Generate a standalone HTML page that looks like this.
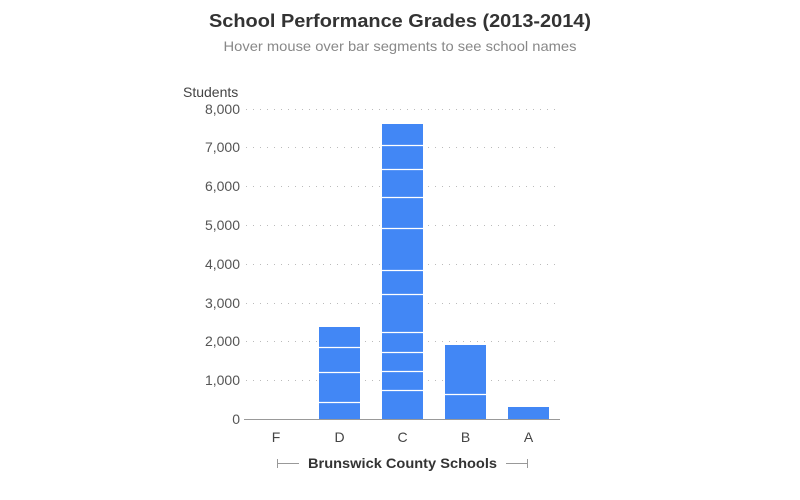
<!DOCTYPE html>
<html><head><meta charset="utf-8"><style>
html,body{margin:0;padding:0;background:#fff;}
svg{display:block;font-family:"Liberation Sans",Arial,sans-serif;}
</style></head><body>
<svg width="800" height="500" viewBox="0 0 800 500" xmlns="http://www.w3.org/2000/svg">
<rect width="800" height="500" fill="#fff"/>
<text x="400" y="27" text-anchor="middle" font-size="18" font-weight="bold" fill="#333" textLength="382" lengthAdjust="spacingAndGlyphs">School Performance Grades (2013-2014)</text>
<text x="400" y="51" text-anchor="middle" font-size="14" fill="#888" textLength="353" lengthAdjust="spacingAndGlyphs">Hover mouse over bar segments to see school names</text>
<text x="183" y="97" font-size="14" fill="#444">Students</text>
<g stroke="#bbb" stroke-width="1" stroke-dasharray="1,6">
<line x1="246" x2="560" y1="109.5" y2="109.5"/>
<line x1="246" x2="560" y1="147.5" y2="147.5"/>
<line x1="246" x2="560" y1="186.5" y2="186.5"/>
<line x1="246" x2="560" y1="225.5" y2="225.5"/>
<line x1="246" x2="560" y1="264.5" y2="264.5"/>
<line x1="246" x2="560" y1="303.5" y2="303.5"/>
<line x1="246" x2="560" y1="341.5" y2="341.5"/>
<line x1="246" x2="560" y1="380.5" y2="380.5"/>
</g>
<g font-size="14" fill="#555" text-anchor="end">
<text x="240" y="114">8,000</text>
<text x="240" y="152">7,000</text>
<text x="240" y="191">6,000</text>
<text x="240" y="230">5,000</text>
<text x="240" y="269">4,000</text>
<text x="240" y="308">3,000</text>
<text x="240" y="346">2,000</text>
<text x="240" y="385">1,000</text>
<text x="240" y="424">0</text>
</g>
<g fill="#4287f5">
<rect x="319" y="327" width="41" height="92"/>
<rect x="382" y="124" width="41" height="295"/>
<rect x="445" y="345" width="41" height="74"/>
<rect x="508" y="407" width="41" height="12"/>
</g>
<g stroke="#fff" stroke-width="1.2">
<line x1="319" x2="360" y1="347.5" y2="347.5"/>
<line x1="319" x2="360" y1="372.5" y2="372.5"/>
<line x1="319" x2="360" y1="402.5" y2="402.5"/>
<line x1="382" x2="423" y1="145.5" y2="145.5"/>
<line x1="382" x2="423" y1="169.5" y2="169.5"/>
<line x1="382" x2="423" y1="197.5" y2="197.5"/>
<line x1="382" x2="423" y1="228.5" y2="228.5"/>
<line x1="382" x2="423" y1="270.5" y2="270.5"/>
<line x1="382" x2="423" y1="294.5" y2="294.5"/>
<line x1="382" x2="423" y1="332.5" y2="332.5"/>
<line x1="382" x2="423" y1="352.5" y2="352.5"/>
<line x1="382" x2="423" y1="371.5" y2="371.5"/>
<line x1="382" x2="423" y1="390.5" y2="390.5"/>
<line x1="445" x2="486" y1="394.5" y2="394.5"/>
</g>
<line x1="244" x2="560" y1="419.5" y2="419.5" stroke="#999" stroke-width="1"/>
<g font-size="14" fill="#444" text-anchor="middle">
<text x="276" y="442">F</text>
<text x="339.5" y="442">D</text>
<text x="402.5" y="442">C</text>
<text x="465.5" y="442">B</text>
<text x="528.5" y="442">A</text>
</g>
<g stroke="#999" stroke-width="1">
<line x1="277" x2="299" y1="463.5" y2="463.5"/>
<line x1="277.5" x2="277.5" y1="459" y2="468"/>
<line x1="506" x2="527" y1="463.5" y2="463.5"/>
<line x1="527.5" x2="527.5" y1="459" y2="468"/>
</g>
<text x="402.5" y="468" text-anchor="middle" font-size="14" font-weight="bold" fill="#333" textLength="189" lengthAdjust="spacingAndGlyphs">Brunswick County Schools</text>
</svg>
</body></html>
